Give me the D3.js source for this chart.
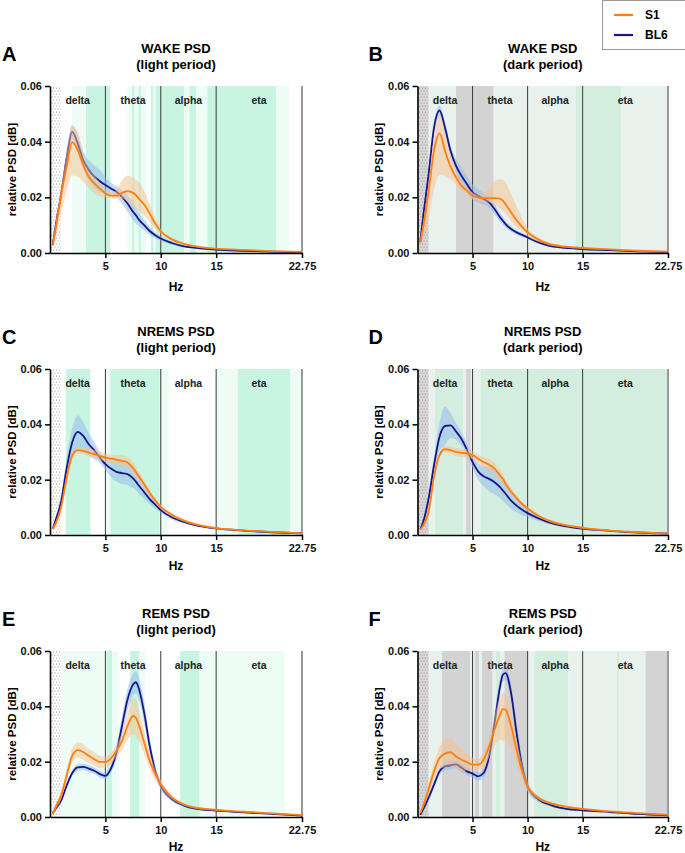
<!DOCTYPE html>
<html><head><meta charset="utf-8">
<script src="https://cdn.jsdelivr.net/npm/d3@7"></script>
<style>body{margin:0;background:#fff;} svg{display:block;font-family:Arial,"Liberation Sans",sans-serif;}</style>
</head><body><svg id="c" width="685" height="853"></svg>
<script>
// ---------- data ----------
const freq = [0.25,0.5,1,1.5,2,2.5,3,3.5,4,4.5,5,5.5,6,6.5,7,7.5,7.75,8,8.5,9,9.5,10,11,12,13,15,17.5,20,22.75];
const xTickValues = [5,10,15,22.75];
const xTickLabels = ["5","10","15","22.75"];
const yTickValues = [0,0.02,0.04,0.06];
const bandNames = ["delta","theta","alpha","eta"];
const bandCenters = [2.5,7.5,12.5,18.875];
const seriesNames = ["S1","BL6"];
const excludedRange = [0,1];

// WAKE light
const wakeLightBL6 = [0.0028,0.0095,0.021,0.034,0.0435,0.0394,0.0334,0.0298,0.0274,0.0258,0.0244,0.0232,0.022,0.0202,0.0178,0.0148,0.0136,0.0121,0.010,0.0079,0.0064,0.0052,0.0036,0.0025,0.0019,0.0012,0.0008,0.0005,0.0002];
const wakeLightBL6Up = [0.0008,0.0015,0.002,0.0025,0.0025,0.003,0.003,0.0035,0.004,0.004,0.003,0.002,0.002,0.0025,0.003,0.003,0.003,0.0025,0.002,0.0015,0.001,0.0008,0.0006,0.0004,0.0003,0.0003,0.0002,0.0002,0.0001];
const wakeLightBL6Dn = wakeLightBL6Up;
const wakeLightS1 = [0.003,0.0085,0.0205,0.031,0.0398,0.037,0.0316,0.0274,0.025,0.0232,0.0214,0.0206,0.0206,0.0216,0.0222,0.0216,0.0208,0.0196,0.0174,0.0142,0.0106,0.0078,0.0049,0.0034,0.0025,0.0016,0.0011,0.0007,0.0004];
const wakeLightS1Up = [0.001,0.002,0.003,0.005,0.006,0.0067,0.0045,0.003,0.003,0.002,0.0015,0.001,0.002,0.0045,0.0056,0.0054,0.0055,0.006,0.005,0.0036,0.002,0.001,0.0006,0.0004,0.0003,0.0002,0.0002,0.0001,0.0001];
const wakeLightS1Dn = [0.001,0.003,0.006,0.009,0.012,0.0096,0.006,0.004,0.0036,0.003,0.0015,0.001,0.001,0.002,0.0038,0.005,0.0048,0.0046,0.004,0.003,0.002,0.001,0.0006,0.0004,0.0003,0.0002,0.0002,0.0001,0.0001];
const wakeLightStrips = [[2.0,3.25,"l"],[3.25,5.45,"m"],[6.98,7.4,"l"],[7.4,7.65,"m"],[7.65,8.0,"l"],[8.0,8.25,"m"],[8.25,8.7,"l"],[9.1,9.35,"m"],[9.35,9.55,"l"],[9.55,12.1,"m"],[12.1,12.6,"l"],[12.6,13.2,"m"],[13.2,14.2,"l"],[14.2,20.4,"m"],[20.4,21.6,"l"]];

// WAKE dark
const wakeDarkBL6 = [0.0038,0.0125,0.028,0.045,0.0512,0.045,0.0367,0.0313,0.0277,0.0247,0.0218,0.0206,0.0194,0.0182,0.0158,0.0128,0.0116,0.0104,0.0086,0.0074,0.0065,0.0056,0.0038,0.0026,0.002,0.0014,0.001,0.0006,0.0003];
const wakeDarkBL6Up = [0.001,0.0015,0.002,0.002,0.0018,0.002,0.002,0.0025,0.003,0.003,0.0028,0.0025,0.002,0.002,0.0018,0.0015,0.0015,0.0012,0.001,0.0008,0.0007,0.0006,0.0005,0.0004,0.0003,0.0002,0.0002,0.0001,0.0001];
const wakeDarkBL6Dn = wakeDarkBL6Up;
const wakeDarkS1 = [0.0038,0.009,0.022,0.0367,0.043,0.0367,0.031,0.0271,0.0241,0.0224,0.0206,0.02,0.0197,0.0197,0.0197,0.0195,0.0188,0.0175,0.0146,0.0118,0.0094,0.0074,0.0048,0.0032,0.0025,0.0018,0.0013,0.0008,0.0005];
const wakeDarkS1Up = [0.001,0.002,0.003,0.005,0.007,0.006,0.004,0.002,0.0015,0.0012,0.0012,0.0012,0.0015,0.0033,0.006,0.007,0.0075,0.0078,0.0066,0.005,0.003,0.0015,0.0008,0.0005,0.0004,0.0003,0.0002,0.0002,0.0001];
const wakeDarkS1Dn = [0.002,0.004,0.01,0.014,0.015,0.009,0.0045,0.0024,0.0015,0.0012,0.0012,0.0012,0.0012,0.0015,0.0025,0.0035,0.0035,0.0033,0.003,0.0025,0.0015,0.0015,0.0008,0.0005,0.0004,0.0003,0.0002,0.0002,0.0001];
const wakeDarkStrips = [[1,3.5,"b"],[3.5,6.92,"g"],[6.92,14.35,"b"],[14.35,18.53,"G"],[18.53,22.75,"b"]];

// NREMS light
const nremLightBL6 = [0.0022,0.0052,0.012,0.024,0.0334,0.0373,0.0358,0.0328,0.0306,0.028,0.0256,0.024,0.0228,0.0224,0.022,0.0205,0.0193,0.018,0.0155,0.013,0.011,0.009,0.0064,0.0048,0.0037,0.0024,0.0016,0.001,0.0006];
const nremLightBL6Up = [0.0005,0.001,0.002,0.004,0.005,0.006,0.005,0.004,0.003,0.002,0.002,0.003,0.0035,0.004,0.004,0.0035,0.003,0.003,0.0025,0.002,0.0015,0.001,0.0008,0.0005,0.0004,0.0003,0.0002,0.0002,0.0001];
const nremLightBL6Dn = nremLightBL6Up;
const nremLightS1 = [0.0022,0.004,0.01,0.0205,0.0286,0.0307,0.0304,0.0298,0.0292,0.0286,0.028,0.0276,0.0272,0.0268,0.0262,0.0242,0.0228,0.0213,0.0183,0.0152,0.0125,0.0102,0.0073,0.0054,0.004,0.0025,0.0017,0.0011,0.0006];
const nremLightS1Up = [0.0003,0.0005,0.001,0.0012,0.0012,0.0012,0.0012,0.0015,0.0015,0.0015,0.0015,0.0015,0.0018,0.002,0.002,0.002,0.002,0.0018,0.0015,0.0012,0.001,0.0008,0.0006,0.0005,0.0004,0.0003,0.0002,0.0002,0.0001];
const nremLightS1Dn = nremLightS1Up;
const nremLightStrips = [[1.42,3.64,"m"],[5.0,5.45,"l"],[5.45,9.9,"m"],[9.9,10.7,"l"],[15,16.97,"l"],[16.97,21.7,"m"],[21.7,22.75,"l"]];

// NREMS dark
const nremDarkBL6 = [0.002,0.0045,0.013,0.0252,0.0355,0.0394,0.0396,0.0374,0.0347,0.0307,0.0264,0.023,0.0212,0.0203,0.0191,0.0173,0.0161,0.0149,0.0124,0.0106,0.0091,0.0079,0.006,0.0045,0.0035,0.0023,0.0015,0.0009,0.0005];
const nremDarkBL6Up = [0.0005,0.001,0.002,0.003,0.005,0.007,0.0045,0.003,0.0025,0.002,0.002,0.003,0.0035,0.0045,0.0045,0.004,0.0038,0.0035,0.003,0.0025,0.002,0.0015,0.001,0.0006,0.0005,0.0003,0.0002,0.0002,0.0001];
const nremDarkBL6Dn = nremDarkBL6Up;
const nremDarkS1 = [0.002,0.0033,0.0082,0.021,0.0289,0.031,0.0307,0.030,0.0297,0.0295,0.0289,0.0276,0.0264,0.0254,0.024,0.0215,0.0203,0.0185,0.0157,0.0133,0.0112,0.0096,0.0069,0.0051,0.0039,0.0026,0.0016,0.001,0.0005];
const nremDarkS1Up = [0.0003,0.0005,0.001,0.0012,0.0012,0.0012,0.0012,0.0015,0.0015,0.0015,0.0015,0.0015,0.0018,0.002,0.002,0.002,0.0018,0.0015,0.0012,0.001,0.0009,0.0008,0.0006,0.0005,0.0004,0.0003,0.0002,0.0002,0.0001];
const nremDarkS1Dn = nremDarkS1Up;
const nremDarkStrips = [[1,1.55,"b"],[1.55,4.15,"G"],[4.15,4.4,"b"],[4.4,4.85,"g"],[4.85,5.75,"b"],[5.75,22.75,"G"]];

// REMS light
const remLightBL6 = [0.0014,0.0029,0.0059,0.0113,0.0158,0.0179,0.0181,0.0175,0.0167,0.0155,0.0149,0.0175,0.0233,0.0329,0.0425,0.0479,0.0487,0.0467,0.0377,0.0257,0.0167,0.0113,0.0065,0.0043,0.0031,0.0023,0.0017,0.0011,0.0005];
const remLightBL6Up = [0.0003,0.0005,0.0008,0.001,0.0012,0.0012,0.0012,0.0012,0.0012,0.0012,0.0012,0.0015,0.0025,0.0035,0.004,0.004,0.004,0.004,0.004,0.003,0.002,0.0015,0.0008,0.0005,0.0004,0.0003,0.0002,0.0002,0.0001];
const remLightBL6Dn = remLightBL6Up;
const remLightS1 = [0.001,0.0035,0.0077,0.0149,0.0221,0.0242,0.0235,0.0221,0.0209,0.0199,0.0199,0.0212,0.0239,0.0275,0.0329,0.0365,0.0359,0.0335,0.0269,0.0203,0.0155,0.0119,0.0071,0.0047,0.0035,0.0026,0.0019,0.0013,0.0007];
const remLightS1Up = [0.0003,0.001,0.0015,0.002,0.0025,0.0028,0.0028,0.0025,0.0025,0.0022,0.002,0.002,0.002,0.003,0.005,0.0068,0.0068,0.006,0.004,0.003,0.002,0.0015,0.0008,0.0005,0.0004,0.0003,0.0002,0.0002,0.0001];
const remLightS1Dn = remLightS1Up;
const remLightStrips = [[1.0,5.1,"l"],[5.1,5.6,"m"],[5.6,6.24,"l"],[7.24,8.08,"m"],[8.08,8.6,"l"],[11.75,13.5,"m"],[13.5,21.2,"l"]];

// REMS dark
const remDarkBL6 = [0.0008,0.0027,0.0069,0.0117,0.0165,0.0183,0.0187,0.019,0.0178,0.0165,0.0157,0.0147,0.0159,0.0219,0.034,0.0472,0.0514,0.052,0.0448,0.0304,0.0183,0.0111,0.0063,0.0045,0.0033,0.0024,0.0018,0.0011,0.0006];
const remDarkBL6Up = [0.0003,0.0006,0.001,0.0012,0.0015,0.0015,0.0015,0.0015,0.0015,0.0015,0.0015,0.0015,0.0018,0.0025,0.0035,0.003,0.0025,0.0025,0.003,0.0035,0.003,0.002,0.001,0.0006,0.0004,0.0003,0.0002,0.0002,0.0001];
const remDarkBL6Dn = remDarkBL6Up;
const remDarkS1 = [0.0014,0.0039,0.0099,0.0165,0.0213,0.0229,0.0234,0.0219,0.0207,0.0198,0.0189,0.0189,0.0207,0.0255,0.0316,0.037,0.039,0.0388,0.0328,0.0243,0.0165,0.0111,0.0069,0.0051,0.0041,0.0029,0.002,0.0014,0.0008];
const remDarkS1Up = [0.0005,0.001,0.002,0.003,0.004,0.005,0.005,0.0045,0.004,0.003,0.0025,0.002,0.003,0.003,0.005,0.0065,0.006,0.006,0.005,0.004,0.003,0.0015,0.0008,0.0005,0.0004,0.0003,0.0002,0.0002,0.0001];
const remDarkS1Dn = [0.0005,0.001,0.002,0.003,0.004,0.005,0.005,0.0045,0.004,0.003,0.0025,0.002,0.003,0.004,0.006,0.009,0.0115,0.011,0.008,0.005,0.003,0.0015,0.0008,0.0005,0.0004,0.0003,0.0002,0.0002,0.0001];
const remDarkStrips = [[1.0,2.23,"b"],[2.23,4.8,"g"],[4.8,5.2,"b"],[5.2,5.62,"g"],[5.62,5.86,"b"],[5.86,6.83,"g"],[6.83,7.08,"b"],[7.08,7.5,"G"],[7.5,7.9,"b"],[7.9,10.0,"g"],[10.0,10.6,"b"],[10.6,13.7,"G"],[13.7,18.1,"b"],[18.1,18.35,"G"],[18.35,20.7,"b"],[20.7,22.75,"g"]];

// ---------- styles / layout ----------
const stripColor = {l:"#edfcf5", m:"#c8f5e2", b:"#e9f1ec", g:"#d3d3d3", G:"#d3eedf"};
const colS1 = "#ff7f0e", colBL6 = "#16168a";
const colX0 = [50, 417.5], colX1 = [302, 668];
const rowTop = [86, 369, 651], rowBot = [253, 535, 817];
const rowHzY = [291, 569.5, 850.5];

const panels = [
  {letter:"A", col:0,row:0, t1:"WAKE PSD",  t2:"(light period)", dark:false, s1:wakeLightS1, s1Up:wakeLightS1Up, s1Dn:wakeLightS1Dn, bl:wakeLightBL6, blUp:wakeLightBL6Up, blDn:wakeLightBL6Dn, strips:wakeLightStrips},
  {letter:"B", col:1,row:0, t1:"WAKE PSD",  t2:"(dark period)",  dark:true,  s1:wakeDarkS1, s1Up:wakeDarkS1Up, s1Dn:wakeDarkS1Dn, bl:wakeDarkBL6, blUp:wakeDarkBL6Up, blDn:wakeDarkBL6Dn, strips:wakeDarkStrips},
  {letter:"C", col:0,row:1, t1:"NREMS PSD", t2:"(light period)", dark:false, s1:nremLightS1, s1Up:nremLightS1Up, s1Dn:nremLightS1Dn, bl:nremLightBL6, blUp:nremLightBL6Up, blDn:nremLightBL6Dn, strips:nremLightStrips},
  {letter:"D", col:1,row:1, t1:"NREMS PSD", t2:"(dark period)",  dark:true,  s1:nremDarkS1, s1Up:nremDarkS1Up, s1Dn:nremDarkS1Dn, bl:nremDarkBL6, blUp:nremDarkBL6Up, blDn:nremDarkBL6Dn, strips:nremDarkStrips},
  {letter:"E", col:0,row:2, t1:"REMS PSD",  t2:"(light period)", dark:false, s1:remLightS1, s1Up:remLightS1Up, s1Dn:remLightS1Dn, bl:remLightBL6, blUp:remLightBL6Up, blDn:remLightBL6Dn, strips:remLightStrips},
  {letter:"F", col:1,row:2, t1:"REMS PSD",  t2:"(dark period)",  dark:true,  s1:remDarkS1, s1Up:remDarkS1Up, s1Dn:remDarkS1Dn, bl:remDarkBL6, blUp:remDarkBL6Up, blDn:remDarkBL6Dn, strips:remDarkStrips}
];

const svg = d3.select("#c");
const defs = svg.append("defs");
function mkPattern(id, bg){
  const p = defs.append("pattern").attr("id",id).attr("width",6).attr("height",6).attr("patternUnits","userSpaceOnUse");
  p.append("rect").attr("width",6).attr("height",6).attr("fill",bg);
  [[1,1],[4,1],[2.5,4],[5.5,4],[-0.5,4]].forEach(c=>{
    p.append("circle").attr("cx",c[0]).attr("cy",c[1]).attr("r",0.55).attr("fill","#8a8a8a");
  });
}
mkPattern("dotsW","#ffffff");
mkPattern("dotsG","#d6d6d6");

panels.forEach(p => {
  const x0 = colX0[p.col], x1 = colX1[p.col], yT = rowTop[p.row], yB = rowBot[p.row];
  const x = d3.scaleLinear().domain([0,22.75]).range([x0,x1]);
  const y = d3.scaleLinear().domain([0,0.06]).range([yB,yT]);
  const g = svg.append("g");

  // significance strips
  g.selectAll("rect.strip").data(p.strips).join("rect").attr("class","strip")
    .attr("x",d=>x(d[0])).attr("width",d=>x(d[1])-x(d[0]))
    .attr("y",yT).attr("height",yB-yT).attr("fill",d=>stripColor[d[2]]);
  // excluded (dotted) range
  g.append("rect").attr("x",x(excludedRange[0])).attr("width",x(excludedRange[1])-x(excludedRange[0]))
    .attr("y",yT).attr("height",yB-yT).attr("fill",p.dark?"url(#dotsG)":"url(#dotsW)");
  // band dividers
  g.selectAll("line.div").data(xTickValues).join("line").attr("class","div")
    .attr("x1",d=>x(d)).attr("x2",d=>x(d)).attr("y1",yT).attr("y2",yB)
    .attr("stroke",d=>d===22.75?"#9a9a9a":"#3a3a3a").attr("stroke-width",d=>d===22.75?2:1);

  const idx = d3.range(freq.length);
  const area = (m,up,dn) => d3.area().curve(d3.curveMonotoneX)
    .x(i=>x(freq[i])).y0(i=>y(Math.max(0,m[i]-dn[i]))).y1(i=>y(m[i]+up[i]));
  const line = (m) => d3.line().curve(d3.curveMonotoneX).x(i=>x(freq[i])).y(i=>y(m[i]));

  g.append("path").attr("d",area(p.bl,p.blUp,p.blDn)(idx)).attr("fill","#8fb8ec").attr("opacity",0.5);
  g.append("path").attr("d",line(p.bl)(idx)).attr("fill","none").attr("stroke",colBL6).attr("stroke-width",1.8);
  g.append("path").attr("d",area(p.s1,p.s1Up,p.s1Dn)(idx)).attr("fill","#f7c08c").attr("opacity",0.5);
  g.append("path").attr("d",line(p.s1)(idx)).attr("fill","none").attr("stroke",colS1).attr("stroke-width",1.8);

  // band names
  g.selectAll("text.band").data(bandNames).join("text").attr("class","band")
    .attr("x",(d,i)=>x(bandCenters[i])).attr("y",yT+18).attr("text-anchor","middle")
    .attr("font-size","10.5px").attr("font-weight","bold").attr("fill","#222").text(d=>d);

  // axes
  const ax = g.append("g").attr("transform",`translate(${x0},0)`)
    .call(d3.axisLeft(y).tickValues(yTickValues).tickFormat(d3.format(".2f")).tickSize(5).tickSizeOuter(0).tickPadding(3));
  const bx = g.append("g").attr("transform",`translate(0,${yB})`)
    .call(d3.axisBottom(x).tickValues(xTickValues).tickFormat((d,i)=>xTickLabels[i]).tickSize(5).tickSizeOuter(0).tickPadding(4));
  [ax,bx].forEach(a=>{
    a.select(".domain").attr("stroke","#000").attr("stroke-width",1.6);
    a.selectAll(".tick line").attr("stroke","#000").attr("stroke-width",1.5);
    a.selectAll(".tick text").attr("font-size","11px").attr("font-weight","bold").attr("fill","#111").attr("font-family","Arial, 'Liberation Sans', sans-serif");
  });

  const cx = (x0+x1)/2;
  g.append("text").attr("x",cx).attr("y",yT-33).attr("text-anchor","middle").attr("font-size","13px").attr("font-weight","bold").text(p.t1);
  g.append("text").attr("x",cx).attr("y",yT-17.5).attr("text-anchor","middle").attr("font-size","13px").attr("font-weight","bold").text(p.t2);
  g.append("text").attr("x",p.col===0?2:368.5).attr("y",yT-25).attr("font-size","20px").attr("font-weight","bold").text(p.letter);
  g.append("text").attr("transform",`translate(${(p.col===0?11.7:378.3)+4.2},${(yT+yB)/2}) rotate(-90)`)
    .attr("text-anchor","middle").attr("font-size","11.5px").attr("font-weight","bold").text("relative PSD [dB]");
  g.append("text").attr("x",cx).attr("y",rowHzY[p.row]).attr("text-anchor","middle").attr("font-size","12px").attr("font-weight","bold").text("Hz");
});

// legend
const lg = svg.append("g");
lg.append("rect").attr("x",602.5).attr("y",0.5).attr("width",100).attr("height",49).attr("fill","#fff").attr("stroke","#9a9a9a").attr("stroke-width",1);
const legCols = [colS1, colBL6];
seriesNames.forEach((n,i)=>{
  const yy = 15 + i*20;
  lg.append("line").attr("x1",614).attr("x2",633).attr("y1",yy).attr("y2",yy).attr("stroke",legCols[i]).attr("stroke-width",2.2);
  lg.append("text").attr("x",645).attr("y",yy+4.3).attr("font-size","12px").attr("font-weight","bold").text(n);
});
</script>
</body></html>
